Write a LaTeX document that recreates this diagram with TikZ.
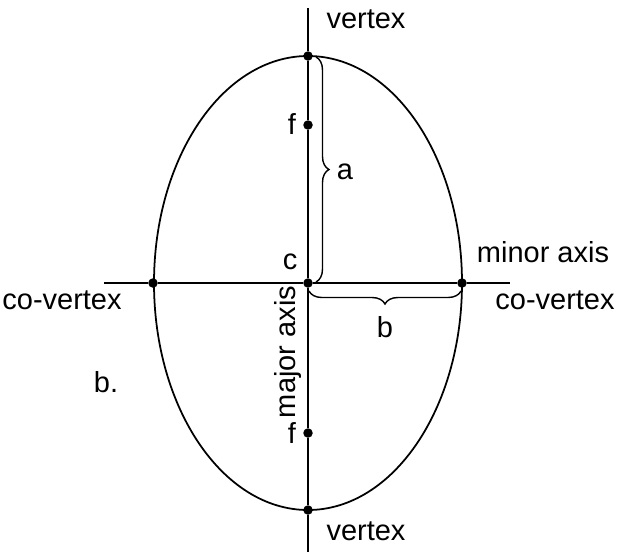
\documentclass[tikz,border=0pt]{standalone}
\usepackage{fontspec}
\setmainfont{Liberation Sans}
\usetikzlibrary{positioning, decorations.pathreplacing}

\begin{document}
\begin{tikzpicture}[
    x=0.02cm, y=-0.02cm,
    % ====================
    % ESTILOS
    % ====================
    dot/.style={
        circle, fill=black, minimum size=0.19cm, inner sep=0pt
    },
    axisline/.style={
        line width=0.8pt, draw=black
    },
    curve/.style={
        line width=1pt, draw=black
    },
    bracestyle/.style={
        line width=0.8pt, decorate,
        decoration={brace, amplitude=0.26cm, aspect=0.5}
    },
    lbl/.style={
        font=\fontsize{16.5}{19}\selectfont, inner sep=1pt
    }
]

% Marco fijo
\useasboundingbox (0,0) rectangle (618,552);

% ====================
% ELIPSE
% ====================
\draw[curve] (308,283) ellipse [x radius=154, y radius=-227];

% ====================
% PUNTOS
% ====================
\node[dot] (vtop) at (308,56) {};
\node[dot] (vbot) at (308,510) {};
\node[dot] (cvleft) at (153,283) {};
\node[dot] (cvright) at (462,283) {};
\node[dot] (ctr) at (308,283) {};
\node[dot] (ftop) at (308,125) {};
\node[dot] (fbot) at (308,433) {};

% Extremos de los ejes
\coordinate (axtop) at (308,8);
\coordinate (axbot) at (308,552);
\coordinate (axleft) at (104,283);
\coordinate (axright) at (510,283);

% ====================
% EJES
% ====================
\draw[axisline] (axtop) -- (vtop) -- (ftop) -- (ctr) -- (fbot) -- (vbot) -- (axbot);
\draw[axisline] (axleft) -- (cvleft) -- (ctr) -- (cvright) -- (axright);

% ====================
% LLAVES
% ====================
\coordinate (atop) at (316,57);
\coordinate (abot) at (316,282);
\draw[bracestyle] (atop) -- (abot);
\coordinate (bleft) at (309,291);
\coordinate (bright) at (461,291);
\draw[bracestyle] (bright) -- (bleft);

% ====================
% ETIQUETAS
% ====================
\node[lbl] (lvtop) at (366,19) {vertex};
\node[lbl] (lvbot) at (366,531) {vertex};
\node[lbl] (lftop) at (292,124) {f};
\node[lbl] (lfbot) at (292,433) {f};
\node[lbl] (lc) at (290,262) {c};
\node[lbl] (la) at (345,172) {a};
\node[lbl] (lb) at (385,327) {b};
\node[lbl] (lminor) at (543,252) {minor axis};
\node[lbl] (lcvleft) at (62,300) {co-vertex};
\node[lbl] (lcvright) at (555,300) {co-vertex};
\node[lbl, rotate=90] (lmajor) at (288,352) {major axis};
\node[lbl] (lpart) at (106,382) {b.};

\end{tikzpicture}
\end{document}
